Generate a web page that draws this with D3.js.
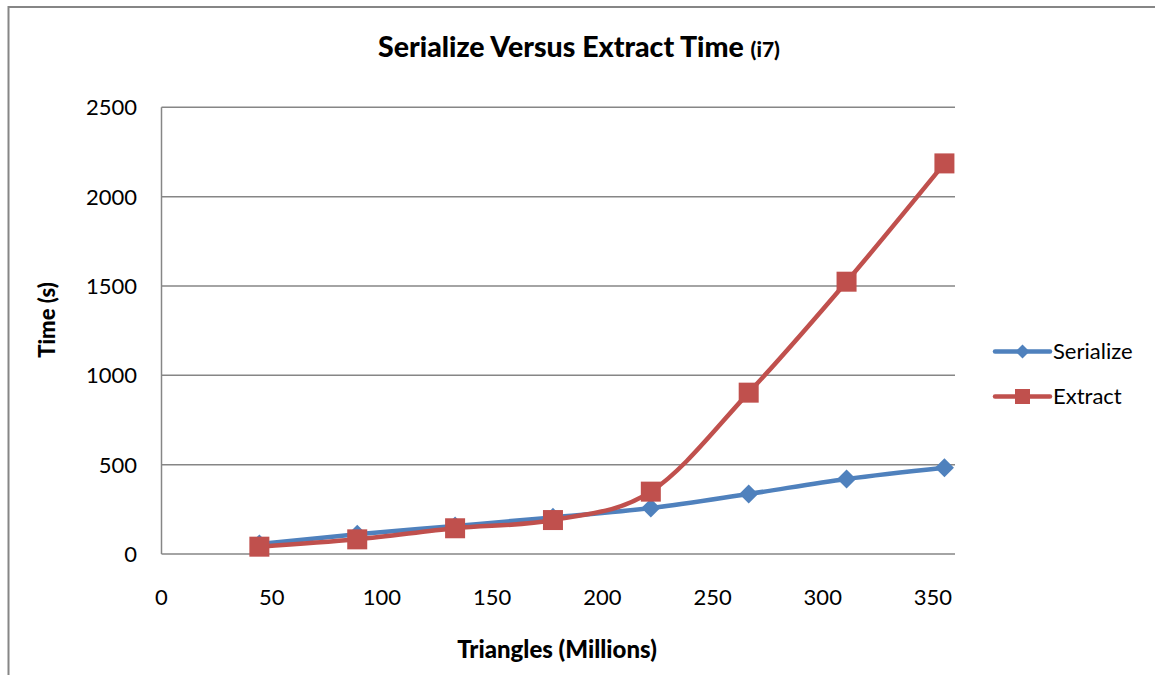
<!DOCTYPE html>
<html>
<head>
<meta charset="utf-8">
<script src="https://cdn.jsdelivr.net/npm/d3@7"></script>
<style>
  body { margin: 0; background: #fff; }
  text { font-family: Lato, "Open Sans", sans-serif; fill: #000; }
</style>
</head>
<body>
<svg id="chart" width="1155" height="675"></svg>
<script>
// values
const triangles = [44.4, 88.8, 133.2, 177.6, 222, 266.4, 310.8, 355.2];
const serialize = [56, 110, 157, 205, 257, 336, 420, 483];
const extract = [41, 82, 144, 190, 349, 903, 1524, 2186];
const xTicks = [0, 50, 100, 150, 200, 250, 300, 350];
const yTicks = [0, 500, 1000, 1500, 2000, 2500];
const seriesNames = ["Serialize", "Extract"];

const svg = d3.select("#chart");
const blue = "#4f81bd", red = "#c0504d", gray = "#868686";

// outer chart border
svg.append("rect")
  .attr("x", 8.5).attr("y", 7)
  .attr("width", 1200).attr("height", 700)
  .attr("fill", "none").attr("stroke", gray).attr("stroke-width", 2);

const x = d3.scaleLinear().domain([0, 360]).range([161.5, 955]);
const y = d3.scaleLinear().domain([0, 2500]).range([554, 107.3]);

// gridlines
svg.append("g")
  .selectAll("line")
  .data(yTicks)
  .enter()
  .append("line")
  .attr("x1", x(0)).attr("x2", x(360))
  .attr("y1", (d) => y(d)).attr("y2", (d) => y(d))
  .attr("stroke", gray).attr("stroke-width", 1.5);

// y axis line
svg.append("line")
  .attr("x1", x(0)).attr("x2", x(0))
  .attr("y1", y(0)).attr("y2", y(2500))
  .attr("stroke", gray).attr("stroke-width", 1.5);

// tick labels
svg.append("g")
  .selectAll("text")
  .data(yTicks)
  .enter()
  .append("text")
  .attr("x", 137).attr("y", (d) => y(d))
  .attr("dy", "0.36em")
  .attr("text-anchor", "end")
  .attr("font-size", 22)
  .text((d) => d);

svg.append("g")
  .selectAll("text")
  .data(xTicks)
  .enter()
  .append("text")
  .attr("x", (d) => x(d)).attr("y", 597)
  .attr("dy", "0.36em")
  .attr("text-anchor", "middle")
  .attr("font-size", 22)
  .text((d) => d);

// titles
const title = svg.append("text")
  .attr("x", 579).attr("y", 57)
  .attr("text-anchor", "middle")
  .attr("font-weight", 900)
  .attr("font-size", 28.5);
title.append("tspan").text("Serialize Versus Extract Time ");
title.append("tspan").attr("font-size", 21).text("(i7)");

svg.append("text")
  .attr("transform", "translate(47,320) rotate(-90)")
  .attr("dy", "0.36em")
  .attr("text-anchor", "middle")
  .attr("font-weight", 900)
  .attr("font-size", 22)
  .text("Time (s)");

svg.append("text")
  .attr("x", 557).attr("y", 649)
  .attr("dy", "0.36em")
  .attr("text-anchor", "middle")
  .attr("font-weight", 900)
  .attr("font-size", 24)
  .text("Triangles (Millions)");

// series
const line = d3.line()
  .x((d) => x(d[0]))
  .y((d) => y(d[1]))
  .curve(d3.curveCardinal.tension(0));

const series = [
  { name: seriesNames[0], color: blue, shape: "diamond", values: d3.zip(triangles, serialize) },
  { name: seriesNames[1], color: red, shape: "square", values: d3.zip(triangles, extract) }
];

function marker(sel, shape, color, big) {
  if (shape === "diamond") {
    const s = big ? 9.5 : 7;
    sel.append("path")
      .attr("d", `M0,${-s}L${s},0L0,${s}L${-s},0Z`)
      .attr("fill", color);
  } else {
    const s = big ? 10 : 7.5;
    sel.append("rect")
      .attr("x", -s).attr("y", -s)
      .attr("width", 2 * s).attr("height", 2 * s)
      .attr("fill", color);
  }
}

series.forEach((s) => {
  svg.append("path")
    .datum(s.values)
    .attr("d", line)
    .attr("fill", "none")
    .attr("stroke", s.color)
    .attr("stroke-width", 4.5)
    .attr("stroke-linejoin", "round");

  const pts = svg.append("g")
    .selectAll("g")
    .data(s.values)
    .enter()
    .append("g")
    .attr("transform", (d) => `translate(${x(d[0])},${y(d[1])})`);
  marker(pts, s.shape, s.color, true);
});

// legend
const legend = svg.append("g")
  .selectAll("g")
  .data(series)
  .enter()
  .append("g")
  .attr("transform", (d, i) => `translate(995,${351.5 + i * 45})`);

legend.append("line")
  .attr("x1", 0).attr("x2", 55)
  .attr("stroke", (d) => d.color)
  .attr("stroke-width", 4.5)
  .attr("stroke-linecap", "round");

legend.each(function (d) {
  marker(d3.select(this).append("g").attr("transform", "translate(27.5,0)"), d.shape, d.color, false);
});

legend.append("text")
  .attr("x", 58).attr("dy", "0.36em")
  .attr("font-size", 22)
  .text((d) => d.name);
</script>
</body>
</html>
